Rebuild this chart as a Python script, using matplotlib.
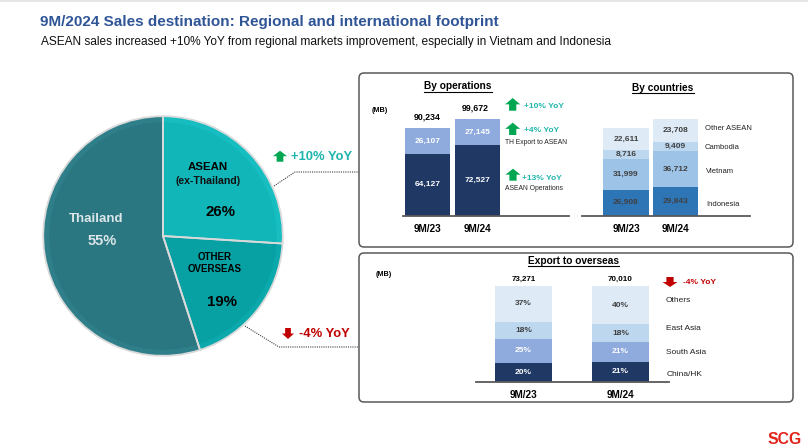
# SCG 9M/2024 sales destination slide
import matplotlib
matplotlib.use('Agg')
import matplotlib.pyplot as plt
from matplotlib.patches import FancyBboxPatch

plt.rcParams['font.family'] = ['Liberation Sans', 'DejaVu Sans']

W, H = 808, 448

# --- data
pie_labels = ['Thailand', 'Other overseas', 'ASEAN']
pie_shares = [55, 19, 26]
pie_rim = ['#2F7F8A', '#0BA9AC', '#17BEC1']
pie_face = ['#2A7782', '#07A0A3', '#11B6B9']

periods = ['9M/23', '9M/24']

ops_asean = [64127, 72527]
ops_export = [26107, 27145]

ctry_indonesia = [26908, 29843]
ctry_vietnam = [31999, 36712]
ctry_cambodia = [8716, 9409]
ctry_other = [22611, 23708]

exp_totals = [73271, 70010]
exp_china = [20, 21]
exp_south = [25, 21]
exp_east = [18, 18]
exp_others = [37, 40]

TEAL = '#1DB5AC'
GREEN = '#00A651'
RED = '#C00000'
GREY = '#404040'

fig = plt.figure(figsize=(W / 100, H / 100), dpi=100, facecolor='white')


def px_axes(x0, y0, x1, y1, z):
    # axes from pixel box, y counted from the top of the image
    ax = fig.add_axes([x0 / W, 1 - y1 / H, (x1 - x0) / W, (y1 - y0) / H], zorder=z)
    ax.patch.set_alpha(0)
    return ax


def overlay(z):
    ax = px_axes(0, 0, W, H, z)
    ax.set_xlim(0, W)
    ax.set_ylim(H, 0)
    ax.axis('off')
    return ax


def stacked(box, centers, width, scale, series, colors, text_colors, fmt):
    # scale = pixels per unit of value, centers given in pixels
    x0, y0, x1, y1 = box
    ax = px_axes(x0, y0, x1, y1, 1)
    ax.set_xlim(x0, x1)
    ax.set_ylim(0, (y1 - y0) / scale)
    bottom = [0] * len(centers)
    for vals, col, tcol in zip(series, colors, text_colors):
        bars = ax.bar(centers, vals, width, bottom=bottom, color=col, edgecolor='none')
        ax.bar_label(bars, labels=[fmt(v) for v in vals], label_type='center',
                     color=tcol, fontsize=6, fontweight='bold')
        bottom = [b + v for b, v in zip(bottom, vals)]
    for s in ['top', 'left', 'right']:
        ax.spines[s].set_visible(False)
    ax.spines['bottom'].set_color('#595959')
    ax.spines['bottom'].set_linewidth(1.3)
    ax.set_yticks([])
    ax.set_xticks(centers)
    ax.set_xticklabels(periods, fontsize=7.2, fontweight='bold', color='black')
    ax.tick_params(axis='x', length=0, pad=6)
    return ax, bottom


# --- panels behind everything
bg = overlay(0)
for (x0, y0, x1, y1) in [(359, 73, 793, 247), (359, 253, 793, 402)]:
    bg.add_patch(FancyBboxPatch((x0 + 4, y0 + 4), x1 - x0 - 8, y1 - y0 - 8,
                                boxstyle='round,pad=4,rounding_size=5',
                                fc='white', ec='#595959', lw=1.1))
bg.plot([0, W], [0, 0], color='#E4E4E4', lw=2)

# --- pie, rim first and face on top for the bevel look
ax_pie = px_axes(42, 115, 284, 357, 1)
ax_pie.pie(pie_shares, startangle=90, colors=pie_rim, radius=1.0,
           wedgeprops=dict(edgecolor='none'))
ax_pie.pie(pie_shares, startangle=90, colors=pie_face, radius=0.95,
           wedgeprops=dict(edgecolor='none'))
ax_pie.pie(pie_shares, startangle=90, colors=['none'] * 3, radius=1.0,
           wedgeprops=dict(edgecolor='#DADADA', linewidth=1.3))
ax_pie.set_xlim(-1.01, 1.01)
ax_pie.set_ylim(-1.01, 1.01)

# --- bars
ax_ops, ops_tot = stacked((403, 73, 569, 215.6), [427.5, 477.5], 45, 0.000968,
                          [ops_asean, ops_export], ['#1F3864', '#8FAADC'], ['white', 'white'],
                          lambda v: f'{v:,}')
for x, t in zip([427.5, 475], ops_tot):
    ax_ops.annotate(f'{t:,}', (x, t), xytext=(0, 8), textcoords='offset points', ha='center',
                    va='center', fontsize=6.3, fontweight='bold', color='black')

ax_ctry, _ = stacked((582, 73, 750, 215.6), [626, 675.5], 45.5, 0.000968,
                     [ctry_indonesia, ctry_vietnam, ctry_cambodia, ctry_other],
                     ['#2E75B6', '#9DC3E6', '#BDD7EE', '#DEEBF7'], [GREY] * 4,
                     lambda v: f'{v:,}')

ax_exp, exp_tot = stacked((476, 254, 669, 382), [523.5, 620.5], 57, 0.96,
                          [exp_china, exp_south, exp_east, exp_others],
                          ['#1F3864', '#8FAADC', '#BDD7EE', '#DEEBF7'],
                          ['white', 'white', GREY, GREY], lambda v: f'{v}%')
for x, t, total in zip([523.5, 620.5], exp_tot, exp_totals):
    ax_exp.annotate(f'{total:,}', (x, t), xytext=(0, 5), textcoords='offset points', ha='center',
                    va='center', fontsize=5.8, fontweight='bold', color='black')

# --- text and callouts on top
fg = overlay(2)


def txt(x, y, s, size, color='black', bold=False, ha='left'):
    fg.text(x, y, s, fontsize=size, color=color, ha=ha, va='center',
            fontweight='bold' if bold else 'normal')


def arrow(cx, top, bottom, width, color, up=True):
    hw = width / 2
    sw = width * 0.24
    tip, base = (top, bottom) if up else (bottom, top)
    neck = tip + (base - tip) * 0.5
    fg.fill([cx, cx + hw, cx + sw, cx + sw, cx - sw, cx - sw, cx - hw],
            [tip, neck, neck, base, base, neck, neck], color=color, lw=0)


def heading(cx, y, s, x0, x1, uy, size=7.3):
    txt(cx, y, s, size, bold=True, ha='center')
    fg.plot([x0, x1], [uy, uy], color='black', lw=0.8)


txt(39.5, 22, '9M/2024 Sales destination: Regional and international footprint', 11.0, '#2F5597', True)
txt(41, 41.5, 'ASEAN sales increased +10% YoY from regional markets improvement, especially in Vietnam and Indonesia',
    8.52, '#111111')

# pie labels
txt(96, 218.7, 'Thailand', 9.5, '#DCE6E8', True, 'center')
txt(102, 241, '55%', 10.5, '#DCE6E8', True, 'center')
txt(208, 167, 'ASEAN', 8.2, 'black', True, 'center')
txt(208, 181, '(ex-Thailand)', 7.6, '#111111', True, 'center')
txt(220, 212, '26%', 10.8, 'black', True, 'center')
txt(215, 257, 'OTHER', 7.0, 'black', True, 'center')
txt(215, 269, 'OVERSEAS', 7.0, 'black', True, 'center')
txt(222, 302, '19%', 10.8, 'black', True, 'center')

# pie callouts
arrow(280, 150.7, 161.7, 14, GREEN)
txt(290.7, 157, '+10% YoY', 9.4, TEAL, True)
fg.plot([274, 295, 359], [186, 172, 172], color='#404040', lw=0.8, ls=(0, (1, 1)))
arrow(288, 328, 339, 12, RED, up=False)
txt(299, 334, '-4% YoY', 9.4, RED, True)
fg.plot([245, 279, 359], [326, 347, 347], color='#404040', lw=0.8, ls=(0, (1, 1)))

# by operations
heading(458, 86, 'By operations', 424, 492, 92)
txt(380, 110, '(MB)', 5.2, 'black', True, 'center')
arrow(512.7, 98, 110.7, 15, GREEN)
txt(523.7, 107, '+10% YoY', 6, TEAL, True)
arrow(512.7, 122.7, 135, 15, GREEN)
txt(524, 131, '+4% YoY', 6, TEAL, True)
txt(505, 142.7, 'TH Export to ASEAN', 4.85, '#222222')
arrow(513, 168.7, 180.7, 15, GREEN)
txt(522, 178, '+13% YoY', 6, TEAL, True)
txt(505, 188, 'ASEAN Operations', 4.85, '#222222')

# by countries
heading(663, 87.7, 'By countries', 632, 694, 93)
txt(705, 129, 'Other ASEAN', 5.5, '#222222')
txt(705, 147.5, 'Cambodia', 5.5, '#222222')
txt(706, 171.5, 'Vietnam', 5.5, '#222222')
txt(706.5, 204, 'Indonesia', 5.5, '#222222')

# export to overseas
heading(573, 261, 'Export to overseas', 528, 619, 266)
txt(384, 274, '(MB)', 5.2, 'black', True, 'center')
arrow(670, 277, 287, 15, RED, up=False)
txt(683, 282, '-4% YoY', 6, RED, True)
txt(666, 301, 'Others', 6, '#222222')
txt(666, 329, 'East Asia', 6, '#222222')
txt(666, 352, 'South Asia', 6, '#222222')
txt(667, 374.5, 'China/HK', 6, '#222222')

txt(802, 439.5, 'SCG', 11.3, '#E2231A', True, 'right')

fig.savefig('out.png', dpi=100)
